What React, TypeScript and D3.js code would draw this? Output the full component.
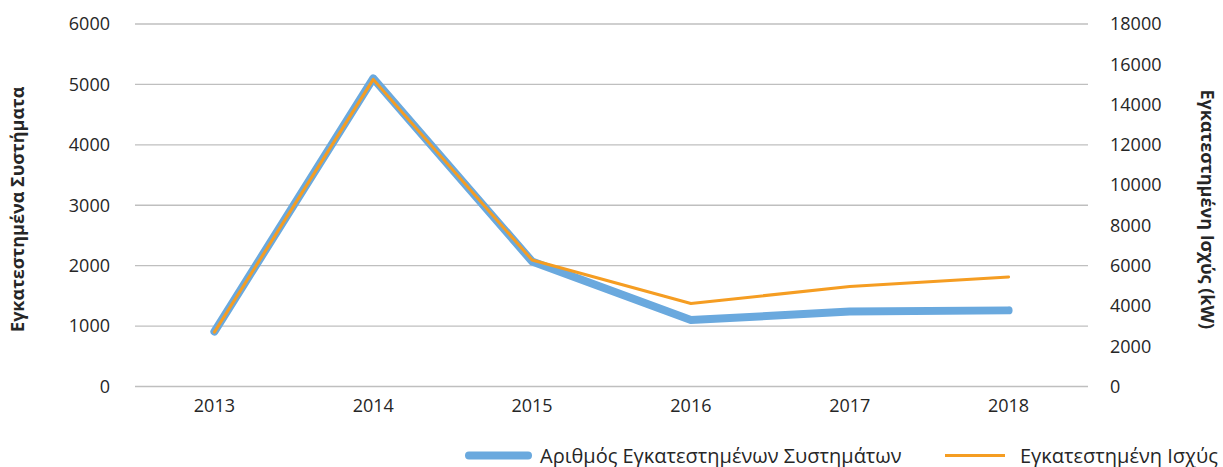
import React from "react";
import * as d3 from "d3";

// Values
const years = ["2013", "2014", "2015", "2016", "2017", "2018"];
const systems = [910, 5100, 2070, 1100, 1240, 1260];
const powerKW = [2700, 15250, 6280, 4120, 4970, 5440];
const leftTicks = [0, 1000, 2000, 3000, 4000, 5000, 6000];
const rightTicks = [0, 2000, 4000, 6000, 8000, 10000, 12000, 14000, 16000, 18000];

const seriesNames = ["Αριθμός Εγκατεστημένων Συστημάτων", "Εγκατεστημένη Ισχύς"];
const leftTitle = "Εγκατεστημένα Συστήματα";
const rightTitle = "Εγκατεστημένη Ισχύς (kW)";

const W = 1223;
const H = 467;
const BLUE = "#6aa9de";
const ORANGE = "#f59d22";
const FONT = "'Open Sans', sans-serif";

export default function App() {
  const plot = { left: 135, right: 1088, top: 24, bottom: 386.5 };

  const x = d3
    .scaleBand<string>()
    .domain(years)
    .range([plot.left, plot.right]);

  const yLeft = d3.scaleLinear().domain([0, 6000]).range([plot.bottom, plot.top]);
  const yRight = d3.scaleLinear().domain([0, 18000]).range([plot.bottom, plot.top]);

  const cx = (i: number) => (x(years[i]) ?? 0) + x.bandwidth() / 2;

  const blueLine = d3
    .line<number>()
    .x((_, i) => cx(i))
    .y((d) => yLeft(d));

  const orangeLine = d3
    .line<number>()
    .x((_, i) => cx(i))
    .y((d) => yRight(d));

  return (
    <svg
      width={W}
      height={H}
      style={{ position: "absolute", left: 0, top: 0, background: "#fff" }}
      fontFamily={FONT}
    >
      {/* gridlines */}
      {leftTicks.map((t) => (
        <line
          key={t}
          x1={plot.left}
          x2={plot.right}
          y1={yLeft(t)}
          y2={yLeft(t)}
          stroke="#bfbfbf"
          strokeWidth={1.3}
        />
      ))}

      {/* left axis labels */}
      {leftTicks.map((t) => (
        <text
          key={t}
          x={110}
          y={yLeft(t)}
          dy="0.35em"
          textAnchor="end"
          fontSize={18}
          fill="#262626"
        >
          {t}
        </text>
      ))}

      {/* right axis labels */}
      {rightTicks.map((t) => (
        <text
          key={t}
          x={1110}
          y={yRight(t)}
          dy="0.35em"
          textAnchor="start"
          fontSize={18}
          fill="#262626"
        >
          {t}
        </text>
      ))}

      {/* x labels */}
      {years.map((yr, i) => (
        <text
          key={yr}
          x={cx(i)}
          y={406}
          dy="0.35em"
          textAnchor="middle"
          fontSize={18}
          fill="#262626"
        >
          {yr}
        </text>
      ))}

      {/* axis titles */}
      <text
        transform={`translate(18,${(plot.top + plot.bottom) / 2 + 4}) rotate(-90)`}
        textAnchor="middle"
        dy="0.35em"
        fontSize={18}
        fontWeight="bold"
        fill="#262626"
      >
        {leftTitle}
      </text>
      <text
        transform={`translate(1207,${(plot.top + plot.bottom) / 2 + 4}) rotate(90)`}
        textAnchor="middle"
        dy="0.35em"
        fontSize={18}
        fontWeight="bold"
        fill="#262626"
      >
        {rightTitle}
      </text>

      {/* series */}
      <path
        d={blueLine(systems) ?? ""}
        fill="none"
        stroke={BLUE}
        strokeWidth={8}
        strokeLinejoin="round"
        strokeLinecap="round"
      />
      <path
        d={orangeLine(powerKW) ?? ""}
        fill="none"
        stroke={ORANGE}
        strokeWidth={3}
        strokeLinejoin="round"
        strokeLinecap="round"
      />

      {/* legend */}
      <line x1={469} x2={528} y1={455.5} y2={455.5} stroke={BLUE} strokeWidth={8} strokeLinecap="round" />
      <text x={540} y={455.5} dy="0.35em" fontSize={20} fill="#262626">
        {seriesNames[0]}
      </text>
      <line x1={945} x2={1005} y1={455.5} y2={455.5} stroke={ORANGE} strokeWidth={3} />
      <text x={1020} y={455.5} dy="0.35em" fontSize={20} fill="#262626">
        {seriesNames[1]}
      </text>
    </svg>
  );
}
